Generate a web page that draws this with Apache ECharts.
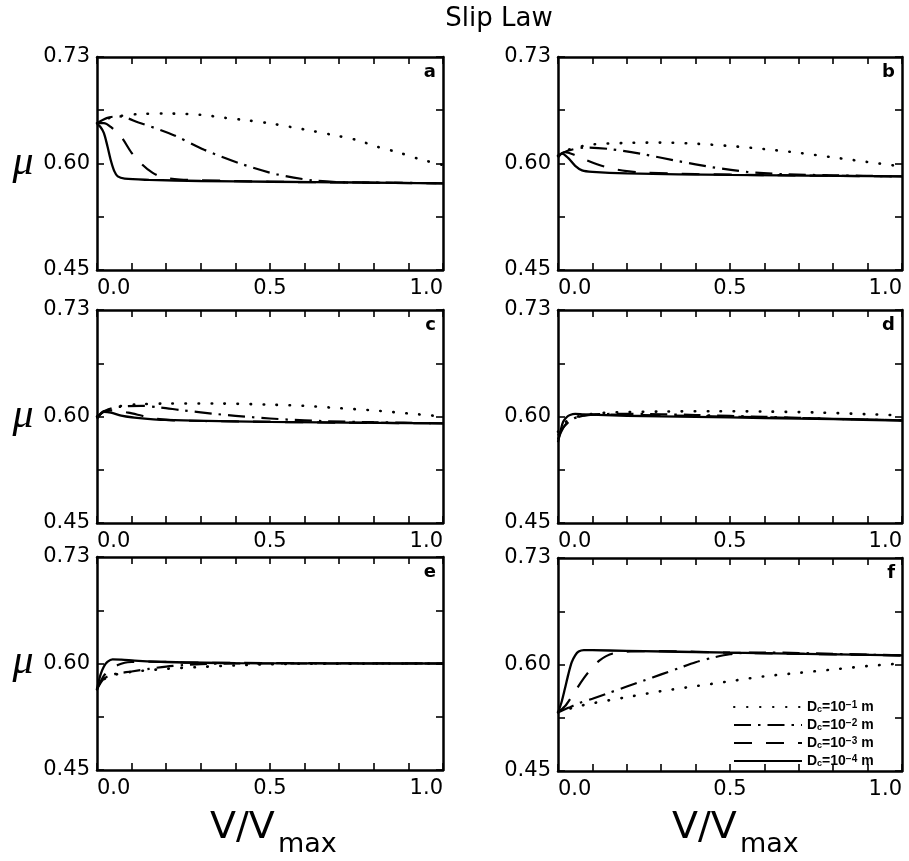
<!DOCTYPE html>
<html>
<head>
<meta charset="utf-8">
<title>Slip Law</title>
<script src="https://cdn.jsdelivr.net/npm/echarts@6/dist/echarts.min.js"></script>
<style>
html, body { margin: 0; padding: 0; background: #fff; }
#chart { width: 909px; height: 861px; }
</style>
</head>
<body>
<div id="chart"></div>
<script>
// mu vs V/Vmax for four Dc values, six panels (a-f)
const panelNames = ['a', 'b', 'c', 'd', 'e', 'f'];
const seriesNames = ['Dc1', 'Dc2', 'Dc3', 'Dc4'];   // Dc = 1e-1 .. 1e-4 m
const legendExp = ['−1', '−2', '−3', '−4'];

const xLabelValues = [0, 0.5, 1];
const xLabelTexts = ['0.0', '0.5', '1.0'];
const yLabelValues = [0.45, 0.59, 0.73];
const yLabelTexts = ['0.45', '0.60', '0.73'];   // the middle tick is printed as 0.60 in the original

// panel a
const aDot = [[0,0.643],[0.03,0.649],[0.06,0.652],[0.12,0.655],[0.2,0.6557],[0.3,0.654],[0.37,0.650],[0.43,0.647],[0.5,0.6427],[0.56,0.638],[0.62,0.633],[0.68,0.6276],[0.75,0.621],[0.81,0.612],[0.87,0.6047],[0.93,0.596],[1.0,0.588]];
const aDashDot = [[0,0.643],[0.03,0.650],[0.063,0.652],[0.12,0.644],[0.22,0.6276],[0.31,0.608],[0.42,0.589],[0.52,0.5757],[0.62,0.568],[0.7,0.5655],[0.8,0.565],[1.0,0.564]];
const aDash = [[0,0.643],[0.02,0.643],[0.04,0.638],[0.07,0.625],[0.1,0.604],[0.13,0.589],[0.16,0.578],[0.19,0.572],[0.24,0.569],[0.3,0.568],[0.5,0.566],[1.0,0.564]];
const aSolid = [[0,0.642],[0.01,0.638],[0.02,0.63],[0.03,0.613],[0.04,0.594],[0.05,0.580],[0.06,0.573],[0.08,0.570],[0.15,0.5685],[0.3,0.567],[0.5,0.566],[0.75,0.565],[1.0,0.564]];
// panel b
const bDot = [[0,0.600],[0.03,0.608],[0.1,0.615],[0.2,0.617],[0.3,0.6175],[0.4,0.616],[0.5,0.613],[0.6,0.609],[0.7,0.604],[0.8,0.598],[0.9,0.592],[1.0,0.586]];
const bDashDot = [[0,0.600],[0.03,0.607],[0.08,0.611],[0.15,0.609],[0.25,0.602],[0.35,0.593],[0.45,0.585],[0.55,0.579],[0.65,0.576],[0.8,0.5745],[1.0,0.573]];
const bDash = [[0,0.600],[0.02,0.605],[0.05,0.601],[0.08,0.595],[0.12,0.588],[0.16,0.583],[0.2,0.580],[0.25,0.578],[0.4,0.576],[0.6,0.5748],[1.0,0.573]];
const bSolid = [[0,0.598],[0.012,0.603],[0.03,0.597],[0.05,0.587],[0.07,0.581],[0.1,0.579],[0.2,0.577],[0.5,0.575],[1.0,0.573]];
// panel c
const cDot = [[0,0.590],[0.03,0.598],[0.06,0.603],[0.12,0.606],[0.2,0.607],[0.35,0.607],[0.5,0.6055],[0.6,0.604],[0.7,0.601],[0.8,0.598],[0.9,0.594],[1.0,0.590]];
const cDashDot = [[0,0.590],[0.03,0.599],[0.07,0.603],[0.13,0.604],[0.18,0.602],[0.25,0.598],[0.35,0.593],[0.45,0.589],[0.55,0.586],[0.65,0.584],[0.8,0.5825],[1.0,0.581]];
const cDash = [[0,0.588],[0.02,0.597],[0.05,0.598],[0.09,0.595],[0.13,0.591],[0.17,0.587],[0.22,0.585],[0.4,0.5835],[0.7,0.582],[1.0,0.581]];
const cSolid = [[0,0.587],[0.01,0.593],[0.02,0.596],[0.04,0.595],[0.07,0.591],[0.1,0.589],[0.2,0.5855],[0.5,0.583],[1.0,0.581]];
// panel d
const dDot = [[0,0.570],[0.02,0.582],[0.05,0.589],[0.1,0.5935],[0.17,0.5955],[0.3,0.5965],[0.46,0.597],[0.6,0.5965],[0.75,0.5953],[0.9,0.593],[1.0,0.5913]];
const dDashDot = [[0,0.565],[0.02,0.578],[0.04,0.586],[0.07,0.591],[0.12,0.593],[0.2,0.5935],[0.4,0.592],[0.6,0.5895],[0.8,0.587],[1.0,0.585]];
const dDash = [[0,0.560],[0.015,0.575],[0.03,0.583],[0.05,0.588],[0.08,0.5915],[0.15,0.5925],[0.3,0.5915],[0.6,0.589],[1.0,0.585]];
const dSolid = [[0,0.556],[0.008,0.572],[0.015,0.583],[0.025,0.589],[0.035,0.592],[0.05,0.5935],[0.075,0.5928],[0.2,0.591],[0.4,0.5895],[0.6,0.588],[0.8,0.5865],[1.0,0.5847]];
// panel e
const eDot = [[0,0.556],[0.02,0.569],[0.05,0.575],[0.1,0.579],[0.2,0.583],[0.3,0.5855],[0.4,0.5875],[0.5,0.589],[0.6,0.5897],[1.0,0.590]];
const eDashDot = [[0,0.556],[0.02,0.570],[0.05,0.576],[0.1,0.5795],[0.15,0.583],[0.2,0.586],[0.25,0.588],[0.3,0.5893],[0.4,0.590],[1.0,0.590]];
const eDash = [[0,0.556],[0.02,0.574],[0.04,0.583],[0.06,0.588],[0.08,0.591],[0.1,0.592],[0.15,0.5925],[0.3,0.591],[1.0,0.590]];
const eSolid = [[0,0.556],[0.01,0.575],[0.02,0.586],[0.03,0.592],[0.045,0.5955],[0.07,0.595],[0.12,0.5935],[0.2,0.592],[0.4,0.5905],[1.0,0.590]];
// panel f
const fDot = [[0,0.527],[0.05,0.534],[0.1,0.539],[0.2,0.547],[0.3,0.555],[0.4,0.5615],[0.5,0.568],[0.6,0.5745],[0.7,0.579],[0.8,0.5835],[0.9,0.588],[1.0,0.5915]];
const fDashDot = [[0,0.527],[0.03,0.533],[0.06,0.539],[0.1,0.545],[0.15,0.553],[0.2,0.561],[0.25,0.569],[0.3,0.577],[0.35,0.585],[0.4,0.593],[0.45,0.599],[0.5,0.6035],[0.55,0.6055],[0.6,0.6058],[0.8,0.604],[1.0,0.602]];
const fDash = [[0,0.527],[0.02,0.535],[0.04,0.548],[0.06,0.562],[0.08,0.575],[0.1,0.586],[0.12,0.595],[0.14,0.601],[0.16,0.6045],[0.2,0.607],[0.3,0.6075],[0.5,0.6055],[1.0,0.602]];
const fSolid = [[0,0.527],[0.01,0.540],[0.02,0.558],[0.03,0.577],[0.04,0.593],[0.05,0.602],[0.06,0.607],[0.075,0.609],[0.1,0.6088],[0.2,0.608],[0.5,0.6055],[1.0,0.6019]];

const panelData = [
    [aDot, aDashDot, aDash, aSolid],
    [bDot, bDashDot, bDash, bSolid],
    [cDot, cDashDot, cDash, cSolid],
    [dDot, dDashDot, dDash, dSolid],
    [eDot, eDashDot, eDash, eSolid],
    [fDot, fDashDot, fDash, fSolid]
];

const gridBoxes = [
    {left: 97, top: 57, width: 346, height: 213},
    {left: 558, top: 57, width: 344, height: 213},
    {left: 97, top: 310, width: 346, height: 213},
    {left: 558, top: 310, width: 344, height: 213},
    {left: 97, top: 557, width: 346, height: 213},
    {left: 558, top: 558, width: 344, height: 213}
];

const lineTypes = [
    {type: [0.5, 12.5], cap: 'round', width: 2.6},
    {type: [17, 7, 2.5, 7], cap: 'butt', width: 2.2},
    {type: [18, 14], cap: 'butt', width: 2.2},
    {type: 'solid', cap: 'butt', width: 2.3}
];

function pickLabel(values, texts) {
    return function (v) {
        let k = values.findIndex(t => Math.abs(t - v) < 1e-6);
        return k >= 0 ? texts[k] : '';
    };
}

let frame = {show: true, onZero: false, lineStyle: {color: '#000', width: 2.5}};
let ticks = {show: true, inside: true, length: 7, lineStyle: {color: '#000', width: 1.6}};
let tickFont = {fontFamily: 'DejaVu Sans', fontSize: 21, color: '#000'};

let grid = [], xAxis = [], yAxis = [], series = [], graphic = [];

for (let i = 0; i < 6; i++) {
    grid.push(Object.assign({containLabel: false}, gridBoxes[i]));
    xAxis.push({
        gridIndex: i, type: 'value', min: 0, max: 1, interval: 0.1, position: 'bottom',
        axisLine: frame, axisTick: ticks, splitLine: {show: false},
        axisLabel: Object.assign({
            margin: 8, showMinLabel: true, showMaxLabel: true,
            alignMinLabel: 'left', alignMaxLabel: 'right',
            formatter: pickLabel(xLabelValues, xLabelTexts)
        }, tickFont)
    });
    xAxis.push({
        gridIndex: i, type: 'value', min: 0, max: 1, interval: 0.1, position: 'top',
        axisLine: frame, axisTick: ticks, splitLine: {show: false}, axisLabel: {show: false}
    });
    yAxis.push({
        gridIndex: i, type: 'value', min: 0.45, max: 0.73, interval: 0.07, position: 'left',
        axisLine: frame, axisTick: ticks, splitLine: {show: false},
        axisLabel: Object.assign({
            margin: 7, showMinLabel: true, showMaxLabel: true,
            formatter: pickLabel(yLabelValues, yLabelTexts)
        }, tickFont)
    });
    yAxis.push({
        gridIndex: i, type: 'value', min: 0.45, max: 0.73, interval: 0.07, position: 'right',
        axisLine: frame, axisTick: ticks, splitLine: {show: false}, axisLabel: {show: false}
    });

    for (let k = 0; k < 4; k++) {
        series.push({
            type: 'line', name: seriesNames[k],
            xAxisIndex: 2 * i, yAxisIndex: 2 * i,
            data: panelData[i][k],
            symbol: 'none', showSymbol: false, smooth: 0.3,
            silent: true,
            color: '#000',
            itemStyle: {color: '#000'},
            lineStyle: Object.assign({color: '#000'}, lineTypes[k])
        });
    }

    // panel letter
    let g = gridBoxes[i];
    graphic.push({
        type: 'text', x: g.left + g.width - 7, y: g.top + 15,
        style: {text: panelNames[i], font: 'bold 18px "DejaVu Sans"', fill: '#000',
                textAlign: 'right', textVerticalAlign: 'middle', align: 'right', verticalAlign: 'middle'}
    });
}

// mu labels on the left column
[163, 416, 662].forEach(function (y) {
    graphic.push({
        type: 'text', x: 23, y: y,
        style: {text: 'μ', font: 'italic 42px "Liberation Serif"', fill: '#000',
                textAlign: 'center', textVerticalAlign: 'middle', align: 'center', verticalAlign: 'middle'}
    });
});

// V/Vmax under each column
[210, 672].forEach(function (x) {
    graphic.push({
        type: 'text', x: x, y: 828,
        style: {text: 'V/V', font: '38px "DejaVu Sans"', fill: '#000',
                textAlign: 'left', textVerticalAlign: 'middle', align: 'left', verticalAlign: 'middle'}
    });
    graphic.push({
        type: 'text', x: x + 68, y: 845,
        style: {text: 'max', font: '27px "DejaVu Sans"', fill: '#000',
                textAlign: 'left', textVerticalAlign: 'middle', align: 'left', verticalAlign: 'middle'}
    });
});

graphic.push({
    type: 'text', x: 499, y: 19,
    style: {text: 'Slip Law', font: '26px "DejaVu Sans"', fill: '#000',
            textAlign: 'center', textVerticalAlign: 'middle', align: 'center', verticalAlign: 'middle'}
});

let myChart = echarts.init(document.getElementById('chart'));
myChart.setOption({
    backgroundColor: '#fff',
    animation: false,
    grid: grid,
    xAxis: xAxis,
    yAxis: yAxis,
    series: series,
    graphic: graphic,
    legend: {
        orient: 'vertical', left: 728, top: 695,
        itemWidth: 68, itemHeight: 14, itemGap: 4,
        selectedMode: false,
        data: seriesNames,
        itemStyle: {opacity: 0, borderWidth: 0},
        formatter: function (name) {
            let k = seriesNames.indexOf(name);
            return '{d|D}{c|c}{d|=10}{e|' + legendExp[k] + '}{d| m}';
        },
        textStyle: {
            color: '#000',
            rich: {
                d: {fontFamily: 'Liberation Sans', fontWeight: 'bold', fontSize: 14, lineHeight: 14, color: '#000'},
                c: {fontFamily: 'Liberation Sans', fontWeight: 'bold', fontSize: 9, lineHeight: 7, verticalAlign: 'bottom', color: '#000'},
                e: {fontFamily: 'Liberation Sans', fontWeight: 'bold', fontSize: 10, lineHeight: 8, verticalAlign: 'top', color: '#000'}
            }
        }
    }
});
</script>
</body>
</html>
